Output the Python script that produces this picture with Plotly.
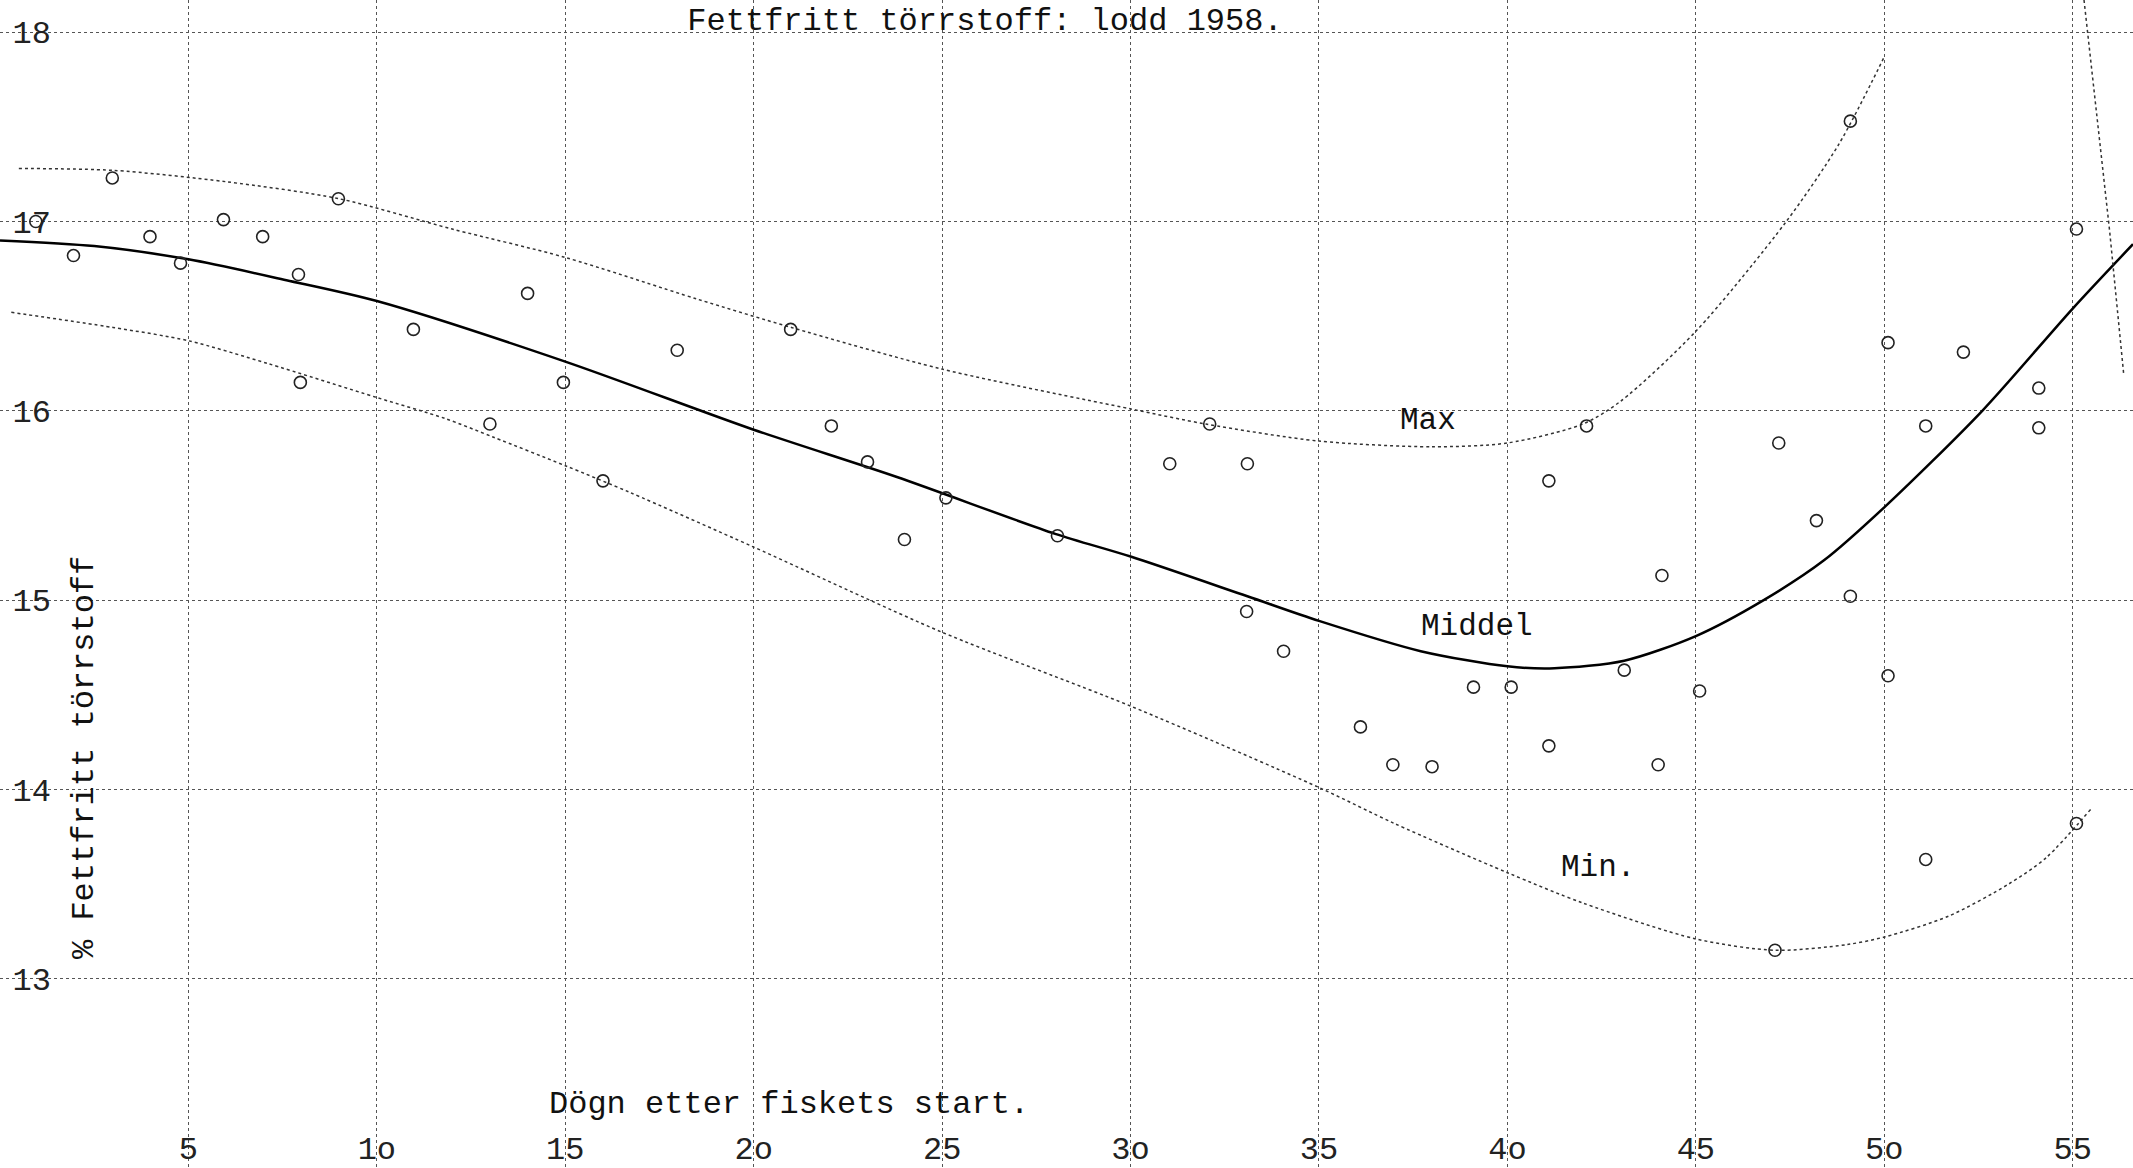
import plotly.graph_objects as go

# ---- data ----
obs_days = [0.95, 1.95, 2.98, 3.98, 4.79, 5.93, 6.97, 7.92, 7.97, 8.98, 10.97, 13.0, 14.0, 14.95,
            16.0, 17.97, 20.98, 22.06, 23.02, 24.0, 25.1, 28.06, 31.04, 32.1, 33.1, 33.08, 34.06,
            36.1, 36.96, 38.0, 39.1, 40.1, 41.1, 41.1, 42.1, 43.1, 44.1, 44.0, 45.1, 47.2, 47.1,
            48.2, 49.1, 49.1, 50.1, 50.1, 51.1, 51.1, 52.1, 54.1, 54.1, 55.1, 55.1]
obs_vals = [17.00, 16.82, 17.23, 16.92, 16.78, 17.01, 16.92, 16.72, 16.15, 17.12, 16.43, 15.93, 16.62, 16.15,
            15.63, 16.32, 16.43, 15.92, 15.73, 15.32, 15.54, 15.34, 15.72, 15.93, 15.72, 14.94, 14.73,
            14.33, 14.13, 14.12, 14.54, 14.54, 15.63, 14.23, 15.92, 14.63, 15.13, 14.13, 14.52, 15.83, 13.15,
            15.42, 17.53, 15.02, 16.36, 14.60, 15.92, 13.63, 16.31, 16.12, 15.91, 16.96, 13.82]

mid_days = [0, 2.5, 5, 7.6, 10, 15, 20, 23.8, 28, 30, 33.1, 35, 37.7, 40, 41.25, 43.1, 45, 46.8,
            48.4, 50, 52.6, 55, 56.6]
mid_vals = [16.90, 16.87, 16.80, 16.69, 16.58, 16.26, 15.90, 15.65, 15.35, 15.23, 15.02, 14.89, 14.73,
            14.65, 14.64, 14.68, 14.81, 15.00, 15.21, 15.49, 16.00, 16.54, 16.88]

max_days = [0.5, 3, 6, 9, 12, 15, 18.5, 21, 25, 30, 32, 35, 38, 40, 42, 43, 45, 47.4, 48.8, 50]
max_vals = [17.28, 17.27, 17.21, 17.12, 16.96, 16.81, 16.59, 16.44, 16.22, 16.01, 15.93, 15.84, 15.81,
            15.83, 15.93, 16.05, 16.42, 17.00, 17.41, 17.87]

min_days = [0.3, 3, 5, 7.1, 10, 11.8, 13.1, 15, 16.7, 20, 25, 30, 35, 37, 40, 42, 45, 47.1, 49,
            50, 51.7, 53.3, 54.3, 55.5]
min_vals = [16.52, 16.44, 16.37, 16.25, 16.07, 15.96, 15.86, 15.71, 15.57, 15.28, 14.83, 14.44, 14.01,
            13.82, 13.56, 13.40, 13.21, 13.15, 13.18, 13.22, 13.33, 13.50, 13.64, 13.90]

stray_days = [55.3, 55.98, 56.35]
stray_vals = [18.17, 16.95, 16.2]

x_tickvals = [5, 10, 15, 20, 25, 30, 35, 40, 45, 50, 55]
x_ticktext = ["5", "1o", "15", "2o", "25", "3o", "35", "4o", "45", "5o", "55"]
y_tickvals = [13, 14, 15, 16, 17, 18]
y_ticktext = ["13", "14", "15", "16", "17", "18"]

curve_labels = ["Max", "Middel", "Min."]
label_days = [37.9, 39.2, 42.4]
label_vals = [15.95, 14.86, 13.59]

title_text = "Fettfritt törrstoff: lodd 1958."
x_title = "Dögn etter fiskets start."
y_title = "% Fettfritt törrstoff"

FONT = "Liberation Mono, Courier New, monospace"

fig = go.Figure()

fig.add_trace(go.Scatter(x=max_days, y=max_vals, mode="lines",
                         line=dict(color="#333333", width=1.5, dash="dot", shape="spline", smoothing=0.8),
                         name="Max", hoverinfo="skip"))
fig.add_trace(go.Scatter(x=min_days, y=min_vals, mode="lines",
                         line=dict(color="#333333", width=1.5, dash="dot", shape="spline", smoothing=0.8),
                         name="Min.", hoverinfo="skip"))
fig.add_trace(go.Scatter(x=mid_days, y=mid_vals, mode="lines",
                         line=dict(color="#000000", width=2.5, shape="spline", smoothing=0.8),
                         name="Middel"))
fig.add_trace(go.Scatter(x=stray_days, y=stray_vals, mode="lines",
                         line=dict(color="#333333", width=1.5, dash="dot"), hoverinfo="skip"))
fig.add_trace(go.Scatter(x=obs_days, y=obs_vals, mode="markers",
                         marker=dict(symbol="circle-open", size=12, color="#222222",
                                     line=dict(width=1.6, color="#222222")),
                         name="Prøver"))

for t, d, v in zip(curve_labels, label_days, label_vals):
    fig.add_annotation(x=d, y=v, text=t, showarrow=False, xref="x", yref="y",
                       xanchor="center", yanchor="middle",
                       font=dict(family=FONT, size=31, color="#111111"))

fig.add_annotation(x=84 / 2133, y=1 - 758 / 1168, xref="paper", yref="paper", text=y_title,
                   textangle=-90, showarrow=False, xanchor="center", yanchor="middle",
                   font=dict(family=FONT, size=32, color="#111111"))
fig.add_annotation(x=789 / 2133, y=1 - 1104 / 1168, xref="paper", yref="paper", text=x_title,
                   showarrow=False, xanchor="center", yanchor="middle",
                   font=dict(family=FONT, size=32, color="#111111"))

fig.update_layout(
    width=2133, height=1168,
    margin=dict(l=0, r=0, t=0, b=0),
    paper_bgcolor="white", plot_bgcolor="white",
    showlegend=False,
    font=dict(family=FONT, color="#111111"),
    title=dict(text=title_text, x=985 / 2133, xanchor="center", y=1 - 19 / 1168, yanchor="middle",
               xref="container", yref="container",
               font=dict(family=FONT, size=32, color="#111111")),
)

fig.update_xaxes(range=[0, 56.6], tickvals=x_tickvals, ticktext=x_ticktext, ticks="",
                 ticklabelposition="inside", ticklabelstandoff=6,
                 tickfont=dict(family=FONT, size=32, color="#222222"),
                 showgrid=True, gridcolor="#555555", griddash="dot", gridwidth=1.2,
                 zeroline=False, showline=True, linecolor="#111111", linewidth=4)
fig.update_yaxes(range=[12.0, 18.17], tickvals=y_tickvals, ticktext=y_ticktext, ticks="",
                 ticklabelposition="inside", ticklabelstandoff=16,
                 tickfont=dict(family=FONT, size=32, color="#222222"),
                 showgrid=True, gridcolor="#555555", griddash="dot", gridwidth=1.2,
                 zeroline=False, showline=True, linecolor="#111111", linewidth=4)

fig.write_html("out.html", config={"displayModeBar": False},
               post_script="document.body.style.margin='0';document.body.style.overflow='hidden';")
